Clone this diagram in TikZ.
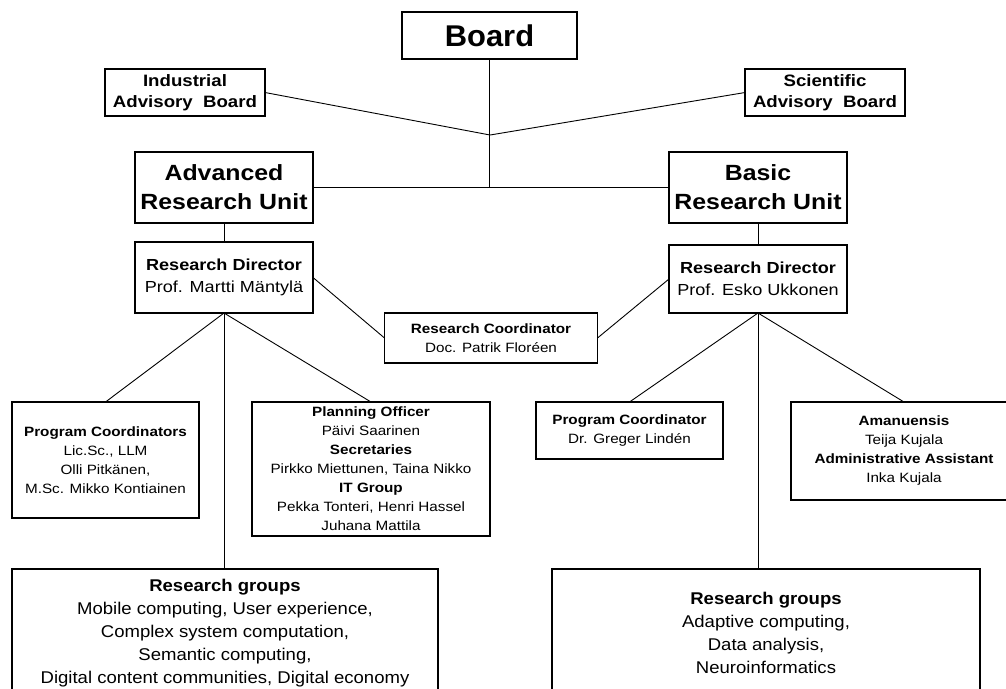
\documentclass[tikz,border=0pt]{standalone}
\usepackage{fontspec}
\setmainfont[FakeStretch=1.13]{Liberation Sans}
\newfontfamily\titlefamily[FakeStretch=1.03]{Liberation Sans}
\newfontfamily\groupfamily[FakeStretch=1.09]{Liberation Sans}
\tikzset{
	orgbox/.style={draw, line width=1.1pt, inner sep=0pt, outer sep=0pt, align=center},
	boardfont/.style={font=\titlefamily\fontsize{30}{34}\selectfont\bfseries},
	advfont/.style={font=\fontsize{16.5}{21}\selectfont\bfseries},
	unitfont/.style={font=\fontsize{22}{29}\selectfont\bfseries},
	dirfont/.style={font=\fontsize{16}{22}\selectfont},
	smallfont/.style={font=\fontsize{13.5}{19}\selectfont},
	groupfont/.style={font=\groupfamily\fontsize{17}{23}\selectfont}
}
\begin{document}
\begin{tikzpicture}[x=1pt,y=-1pt,line width=0.9pt]
	\useasboundingbox (0,0) rectangle (1006,688);
	\clip (0,0) rectangle (1006,688);
	% top level
	\node [orgbox, boardfont, minimum width=175pt, minimum height=47pt] (board) at (489.5,35.5) {Board};
	\node [orgbox, advfont, minimum width=160pt, minimum height=47pt] (iab) at (185,92.5) {Industrial\\Advisory~~Board};
	\node [orgbox, advfont, minimum width=160pt, minimum height=47pt] (sab) at (825,92.5) {Scientific\\Advisory~~Board};
	\coordinate (jn) at (490,135);
	\node [orgbox, unitfont, minimum width=178pt, minimum height=71pt] (aru) at (224,187.5) {Advanced\\Research Unit};
	\node [orgbox, unitfont, minimum width=178pt, minimum height=71pt] (bru) at (758,187.5) {Basic\\Research Unit};
	% directors
	\node [orgbox, dirfont, minimum width=178pt, minimum height=71pt] (rd1) at (224,277.5) {\textbf{Research Director}\\Prof. Martti Mäntylä};
	\node [orgbox, dirfont, minimum width=178pt, minimum height=68pt] (rd2) at (758,279) {\textbf{Research Director}\\Prof. Esko Ukkonen};
	\node [orgbox, smallfont, minimum width=213pt, minimum height=50pt] (rc) at (491,338) {\textbf{Research Coordinator}\\Doc. Patrik Floréen};
	% staff
	\node [orgbox, smallfont, minimum width=187pt, minimum height=116pt] (pc1) at (105.5,460) {\textbf{Program Coordinators}\\Lic.Sc., LLM\\Olli Pitkänen,\\M.Sc. Mikko Kontiainen};
	\node [orgbox, smallfont, minimum width=238pt, minimum height=134pt] (po) at (371,469) {\textbf{Planning Officer}\\Päivi Saarinen\\\textbf{Secretaries}\\Pirkko Miettunen, Taina Nikko\\\textbf{IT Group}\\Pekka Tonteri, Henri Hassel\\Juhana Mattila};
	\node [orgbox, smallfont, minimum width=187pt, minimum height=57pt] (pc2) at (629.5,430.5) {\textbf{Program Coordinator}\\Dr. Greger Lindén};
	\node [orgbox, smallfont, minimum width=226pt, minimum height=98pt] (am) at (904,451) {\textbf{Amanuensis}\\Teija Kujala\\\textbf{Administrative Assistant}\\Inka Kujala};
	% research groups
	\node [orgbox, groupfont, minimum width=426pt, minimum height=128pt] (rg1) at (225,633) {\textbf{Research groups}\\Mobile computing, User experience,\\Complex system computation,\\Semantic computing,\\Digital content communities, Digital economy};
	\node [orgbox, groupfont, minimum width=428pt, minimum height=128pt] (rg2) at (766,633) {\textbf{Research groups}\\Adaptive computing,\\Data analysis,\\Neuroinformatics};
	% connectors
	\draw (board) -- (board |- aru.east);
	\draw (aru.east) -- (bru.west);
	\draw (iab.east) -- (jn) -- (sab.west);
	\draw (aru) -- (rd1);
	\draw (bru.south -| rd2.north) -- (rd2.north);
	\draw (rd1.east) -- (rc.west);
	\draw (rd2.west) -- (rc.east);
	\draw (rd1.south) -- (pc1.north);
	\draw (rd1.south) -- (po.north);
	\draw (rd1.south) -- (rd1.south |- rg1.north);
	\draw (rd2.south) -- (pc2.north);
	\draw (rd2.south) -- (am.north);
	\draw (rd2.south) -- (rd2.south |- rg2.north);
\end{tikzpicture}
\end{document}
